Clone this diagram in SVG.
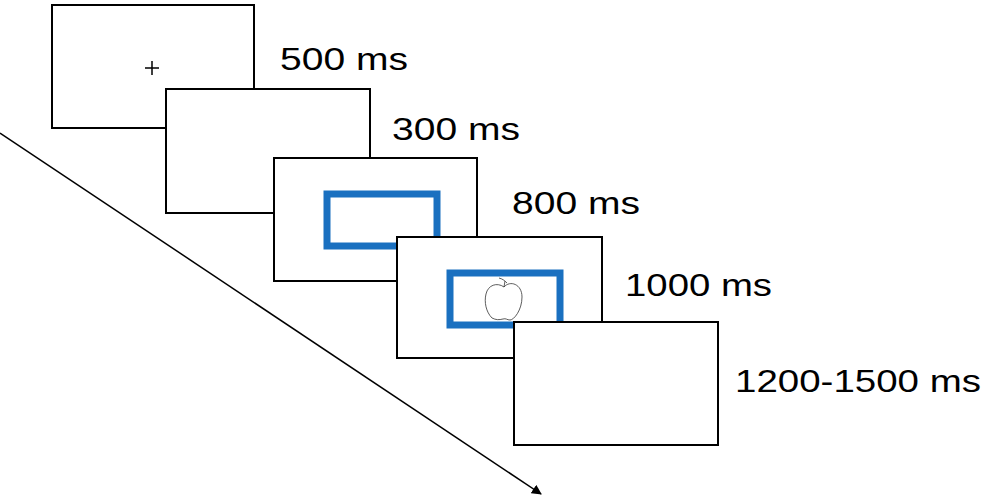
<svg xmlns="http://www.w3.org/2000/svg" width="984" height="500" viewBox="0 0 984 500">
<style>
.f{fill:#fff;stroke:#000;stroke-width:2}
.b{fill:none;stroke:#1a70c0;stroke-width:7}
.t{font-family:"Liberation Sans",Arial,sans-serif;font-size:32px;fill:#000}
</style>
<defs><marker id="ah" markerWidth="10" markerHeight="10" refX="9" refY="5" orient="auto" markerUnits="userSpaceOnUse"><path d="M0,0 L10,5 L0,10 z" fill="#000"/></marker></defs>
<rect width="984" height="500" fill="#fff"/>
<g id="connectors"><line x1="0" y1="133" x2="541" y2="494" stroke="#000" stroke-width="1.5" marker-end="url(#ah)"/></g>
<g id="f1"><rect class="f" x="52" y="5" width="202" height="123"/><path d="M145,68 h14 M152,61 v14" stroke="#000" stroke-width="1.5"/><text class="t" x="280" y="70" textLength="128" lengthAdjust="spacingAndGlyphs">500 ms</text></g>
<g id="f2"><rect class="f" x="166" y="89" width="204" height="124"/><text class="t" x="392" y="140" textLength="128" lengthAdjust="spacingAndGlyphs">300 ms</text></g>
<g id="f3"><rect class="f" x="274" y="158" width="203" height="123"/><rect class="b" x="327" y="194" width="110" height="52"/><text class="t" x="512" y="214" textLength="128" lengthAdjust="spacingAndGlyphs">800 ms</text></g>
<g id="f4"><rect class="f" x="397" y="237" width="205" height="121"/><rect class="b" x="450" y="273" width="110" height="52"/>
<g fill="none" stroke="#333" stroke-width="0.8"><path d="M504,287 C510,280 522,284 522,297 C522,310 514,320 510,320 C507,320 506,318 503,319 C499,320 496,320 492,318 C486,312 484,302 486,294 C488,285 497,282 504,287 Z"/><path d="M504,287 L505,281 M499,278 C503,279 505,281 507,283"/></g>
<text class="t" x="625" y="296" textLength="147" lengthAdjust="spacingAndGlyphs">1000 ms</text></g>
<g id="f5"><rect class="f" x="514" y="322" width="204" height="123"/><text class="t" x="735" y="392" textLength="246" lengthAdjust="spacingAndGlyphs">1200-1500 ms</text></g>
</svg>
